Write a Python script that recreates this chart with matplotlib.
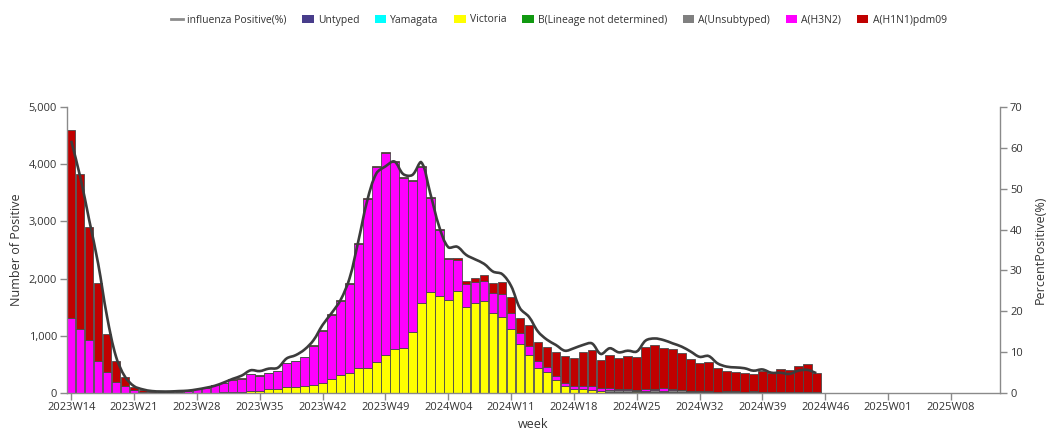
import numpy as np
import matplotlib
matplotlib.use("Agg")
import matplotlib.pyplot as plt
from matplotlib.path import Path
from matplotlib.patches import PathPatch
from matplotlib.lines import Line2D
from matplotlib.patches import Patch
from matplotlib.ticker import FuncFormatter, MultipleLocator

plt.rcParams['font.family'] = ['Open Sans', 'DejaVu Sans']

# ---------------- categories ----------------
weeks = ([f"2023W{w:02d}" for w in range(14, 53)] +
         [f"2024W{w:02d}" for w in range(1, 53)] +
         [f"2025W{w:02d}" for w in range(1, 14)])
tick_labels = ["2023W14", "2023W21", "2023W28", "2023W35", "2023W42", "2023W49",
               "2024W04", "2024W11", "2024W18", "2024W25", "2024W32", "2024W39",
               "2024W46", "2025W01", "2025W08"]

# ---------------- series (2023W14 .. 2024W45) ----------------
untyped = [0]*60 + [10, 10, 15, 5, 10, 15, 10, 15, 10, 10, 8, 10, 5, 5, 10, 5,
                    15, 5, 5, 5, 5, 5, 5, 5]
yamagata = [0]*84
victoria = [0, 0, 0, 0, 0, 0, 0, 0, 0, 0, 0, 0, 0, 0, 1, 2, 3, 5, 10, 10,
            25, 25, 60, 70, 94, 105, 117, 140, 175, 245, 310, 345, 427, 438, 538, 666,
            760, 788, 1057, 1566, 1758, 1688, 1624, 1782, 1507, 1566, 1607, 1390, 1332, 1116,
            848, 655, 438, 368, 222, 110, 62, 65, 55, 33, 10, 8, 5, 20, 5, 0,
            0, 0, 0, 0, 0, 0, 0, 0, 0, 0, 0, 0, 0, 0, 0, 0, 0, 0]
b_lineage_nd = [0]*84
a_unsubtyped = [0]*60 + [25, 25, 30, 15, 20, 35, 25, 35, 30, 20, 20, 15, 15, 20, 20, 15,
                         20, 15, 15, 15, 15, 15, 15, 15]
a_h3n2 = [1315, 1116, 923, 555, 363, 182, 112, 47, 20, 18, 12, 13, 18, 33, 57, 83,
          124, 162, 220, 238, 297, 274, 285, 310, 426, 448, 504, 681, 906, 1108,
          1294, 1562, 2181, 2948, 3419, 3531, 3286, 2976, 2644, 2385, 1647, 1154, 716, 547,
          405, 380, 356, 362, 397, 274, 192, 162, 112, 82, 70, 65, 48, 55, 55, 52,
          30, 30, 8, 5, 30, 8, 45, 10, 5, 0, 0, 0, 0, 0, 0, 0,
          0, 0, 0, 0, 0, 0, 0, 0]
a_h1n1 = [3285, 2721, 1980, 1361, 671, 379, 158, 53, 20, 7, 3, 2, 2, 2, 2, 3,
          3, 3, 4, 4, 5, 5, 5, 6, 6, 8, 10, 15, 18, 20,
          20, 20, 20, 20, 20, 20, 20, 20, 25, 25, 25, 25, 25, 25,
          40, 59, 94, 175, 217, 281, 274, 369, 340, 350, 413, 468, 493, 585, 638, 488,
          585, 540, 579, 589, 733, 786, 709, 697, 656, 566, 498, 518, 413, 355, 338, 330,
          293, 360, 330, 401, 372, 453, 477, 325]
pct_positive = [61.8, 53.0, 42.4, 31.7, 18.6, 8.8, 3.9, 1.6, 0.8, 0.4, 0.3, 0.3, 0.4, 0.5,
                0.8, 1.2, 1.7, 2.5, 3.4, 4.2, 5.5, 5.3, 5.9, 6.1, 8.4, 9.2, 10.6, 12.9,
                16.6, 19.5, 22.7, 28.0, 37.3, 47.3, 53.8, 55.5, 56.7, 53.6, 53.4, 56.5,
                48.9, 40.7, 35.7, 35.8, 33.8, 32.7, 31.6, 29.7, 29.1, 26.2, 20.7, 18.6,
                15.0, 13.0, 11.7, 10.3, 10.9, 11.7, 12.1, 9.5, 10.9, 9.9, 10.3, 10.1,
                12.8, 13.3, 12.9, 12.1, 11.3, 10.1, 8.8, 9.0, 7.2, 6.4, 6.2, 6.0,
                5.4, 5.7, 4.9, 4.9, 4.6, 5.4, 5.6, 4.8]

series = [("Untyped", untyped, "#483d8b"),
          ("Yamagata", yamagata, "#00ffff"),
          ("Victoria", victoria, "#ffff00"),
          ("B(Lineage not determined)", b_lineage_nd, "#119911"),
          ("A(Unsubtyped)", a_unsubtyped, "#808080"),
          ("A(H3N2)", a_h3n2, "#ff00ff"),
          ("A(H1N1)pdm09", a_h1n1, "#c00000")]

W, H = 1046, 430
fig = plt.figure(figsize=(W/100, H/100), dpi=100)
ax = fig.add_axes([66.7/W, (H-392.7)/H, (1000.3-66.7)/W, (392.7-107.3)/H])
ax2 = ax.twinx()

n = len(weeks)
ax.set_xlim(-0.5, n-0.5)
ax.set_ylim(0, 5000)
ax2.set_ylim(0, 70)

x = np.arange(len(a_h1n1))
bottom = np.zeros(len(x))
for name, vals, col in series:
    v = np.array(vals, dtype=float)
    ax.bar(x, v, width=0.96, bottom=bottom, color=col, edgecolor="#4a4a4a",
           linewidth=0.6, zorder=2)
    bottom += v

# smooth line (echarts-like bezier smoothing computed in display space)
fig.canvas.draw()
pts = ax2.transData.transform(np.column_stack([np.arange(len(pct_positive)), pct_positive]))
smooth = 0.35
m = len(pts)
cin, cout = [], []
for k in range(m):
    p = pts[k]
    prv = pts[k-1] if k > 0 else p
    nxt = pts[k+1] if k < m-1 else p
    v = nxt - prv
    d0 = np.hypot(*(p - prv)); d1 = np.hypot(*(nxt - p))
    r = d1/(d0+d1) if (d0+d1) > 0 else 0.5
    cin.append(p - v*smooth*(1-r))
    cout.append(p + v*smooth*r)
verts = [pts[0]]
codes = [Path.MOVETO]
for k in range(m-1):
    verts += [cout[k], cin[k+1], pts[k+1]]
    codes += [Path.CURVE4]*3
inv = ax2.transData.inverted()
verts = inv.transform(np.array(verts))
ax2.add_patch(PathPatch(Path(verts, codes), facecolor="none", edgecolor="#3c3c3c",
                        linewidth=1.9, zorder=5))

# axes styling
axis_col = "#8a8a8a"
for a in (ax, ax2):
    a.spines['top'].set_visible(False)
    for s in ('left', 'right', 'bottom'):
        a.spines[s].set_color(axis_col)
        a.spines[s].set_linewidth(1.0)
ax.spines['right'].set_visible(False)
ax2.spines['left'].set_visible(False)
ax2.spines['bottom'].set_visible(False)

tick_pos = [weeks.index(t) for t in tick_labels]
ax.set_xticks(tick_pos)
ax.set_xticklabels(tick_labels)
ax.yaxis.set_major_locator(MultipleLocator(1000))
ax.yaxis.set_major_formatter(FuncFormatter(lambda v, p: f"{int(v):,}"))
ax2.yaxis.set_major_locator(MultipleLocator(10))
ax.tick_params(axis='both', colors=axis_col, labelcolor="#333333", labelsize=8,
               length=5, width=1, pad=2)
ax2.tick_params(axis='y', colors=axis_col, labelcolor="#333333", labelsize=8,
                length=5, width=1, pad=2)

fig.text(17/W, 1-250/H, "Number of Positive", rotation=90, ha="center", va="center",
         fontsize=9, color="#333333")
fig.text(1040/W, 1-250/H, "PercentPositive(%)", rotation=90, ha="center", va="center",
         fontsize=9, color="#333333")
fig.text(533/W, 1-424/H, "week", ha="center", va="center", fontsize=9, color="#333333")

# legend
handles = [Line2D([0], [0], color="#8c8c8c", lw=2)]
labels = ["influenza Positive(%)"]
for name, vals, col in series:
    handles.append(Patch(facecolor=col, edgecolor="none"))
    labels.append(name)
fig.legend(handles, labels, loc="center", bbox_to_anchor=(559/W, 1-20/H), ncol=8,
           frameon=False, fontsize=7.5, handlelength=1.1, handleheight=0.9,
           handletextpad=0.4, columnspacing=1.5, labelcolor="#333333")

fig.savefig("out.png", dpi=100)
